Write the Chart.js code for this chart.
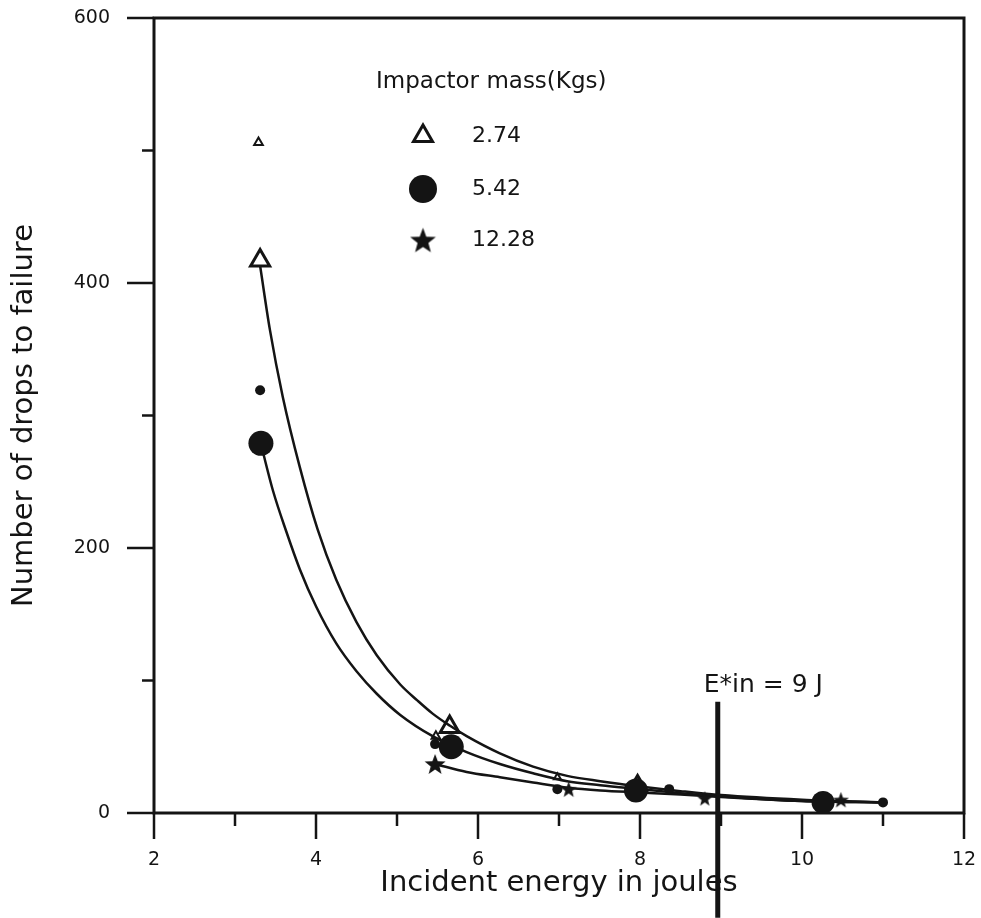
<!DOCTYPE html>
<html>
<head>
<meta charset="utf-8">
<title>Number of drops to failure vs incident energy</title>
<script src="https://cdn.jsdelivr.net/npm/chart.js"></script>
<style>
  html, body { margin: 0; padding: 0; background: #fff; }
  #chart { display: block; }
</style>
</head>
<body>
<canvas id="chart" width="981" height="918"></canvas>
<script>
// values

// axis ticks
const xMajorTicks = [2, 4, 6, 8, 10, 12];
const xMinorTicks = [3, 5, 7, 9, 11];
const yMajorTicks = [0, 200, 400, 600];
const yMinorTicks = [100, 300, 500];

// legend
const legendTitle = 'Impactor mass(Kgs)';
const massLabels = ['2.74', '5.42', '12.28'];

// measured points, one pair of arrays per impactor mass
const triangleX = [3.29, 3.31, 5.48, 5.65, 6.98, 7.97];
const triangleY = [506, 417, 58, 65, 27, 20];
const circleX = [3.31, 3.32, 5.47, 5.67, 6.98, 7.95, 8.36, 10.26, 11.0];
const circleY = [319, 279, 52, 50, 18, 17, 18, 8, 8];
const starX = [5.47, 7.12, 8.80, 10.48];
const starY = [37, 18, 11, 10];

// fitted curves
const upperCurveX = [3.31, 3.43, 3.59, 3.80, 4.02, 4.25, 4.5, 4.75, 5.04, 5.25, 5.44, 5.65, 5.86, 6.27, 6.68, 7.10, 7.51, 8.0, 8.5, 9.0, 10.0, 11.0];
const upperCurveY = [413, 365, 314, 261, 214, 176, 144, 119, 97, 85, 75, 66, 58, 45, 35, 28, 24, 20, 16.5, 13.5, 10, 8];
const middleCurveX = [3.33, 3.47, 3.63, 3.80, 4.0, 4.25, 4.5, 4.75, 5.04, 5.44, 5.86, 6.27, 6.68, 7.10, 7.51, 8.0, 8.5, 9.0, 10.0, 11.0];
const middleCurveY = [276, 243, 213, 184, 156, 128, 107, 90, 74, 58, 46, 37, 30, 24, 21, 18, 15, 12.5, 9, 8];
const lowerCurveX = [5.47, 5.86, 6.27, 6.68, 7.12, 7.51, 8.0, 8.5, 9.0, 10.0, 11.0];
const lowerCurveY = [37, 31, 27, 23, 19, 17, 15.5, 14, 12, 9, 8];

// threshold energy marker
const thresholdLabel = 'E*in = 9 J';
const thresholdX = [8.96, 8.96];
const thresholdY = [84, -79];

const ink = '#141414';
const FONT = '"DejaVu Sans", Verdana, sans-serif';

// wanted plot box inside the 981x918 canvas
const box = { left: 154, right: 964, top: 18, bottom: 813 };

const toPoints = (xs, ys) => xs.map((x, i) => ({ x: x, y: ys[i] }));

// filled five-pointed star as a point image
function makeStar(size) {
  const c = document.createElement('canvas');
  c.width = size;
  c.height = size;
  const g = c.getContext('2d');
  const R = size / 2, r = R * 0.42, cx = R, cy = R + R * 0.09;
  g.beginPath();
  for (let i = 0; i < 10; i++) {
    const ang = -Math.PI / 2 + i * Math.PI / 5;
    const rad = i % 2 ? r : R;
    g.lineTo(cx + rad * Math.cos(ang), cy + rad * Math.sin(ang));
  }
  g.closePath();
  g.fillStyle = ink;
  g.fill();
  return c;
}

// marker sizes (style, matched by index to the point arrays)
const triangleRadius = [5, 11, 5, 11, 4, 11];
const triangleBorder = [2, 3, 2, 3, 2, 3];
const circleRadius = [5, 12.5, 5, 12.5, 5, 12, 5, 11.5, 5];
const starImages = [22, 17, 16, 17].map(makeStar);
const legendStar = makeStar(27);

// box, tick marks
const framePlugin = {
  id: 'frame',
  beforeDatasetsDraw(chart) {
    const { ctx, chartArea: a, scales: { x, y } } = chart;
    ctx.save();
    ctx.strokeStyle = ink;
    ctx.lineWidth = 3;
    ctx.strokeRect(a.left, a.top, a.right - a.left, a.bottom - a.top);
    ctx.lineWidth = 2.5;
    ctx.beginPath();
    yMajorTicks.forEach(v => {
      const p = y.getPixelForValue(v);
      ctx.moveTo(a.left - 27, p); ctx.lineTo(a.left, p);
    });
    yMinorTicks.forEach(v => {
      const p = y.getPixelForValue(v);
      ctx.moveTo(a.left - 12, p); ctx.lineTo(a.left, p);
    });
    xMajorTicks.forEach(v => {
      const p = x.getPixelForValue(v);
      ctx.moveTo(p, a.bottom); ctx.lineTo(p, a.bottom + 26);
    });
    xMinorTicks.forEach(v => {
      const p = x.getPixelForValue(v);
      ctx.moveTo(p, a.bottom); ctx.lineTo(p, a.bottom + 13);
    });
    ctx.stroke();
    ctx.restore();
  }
};

// legend block and threshold label
const notesPlugin = {
  id: 'notes',
  afterDatasetsDraw(chart) {
    const { ctx, scales: { x, y } } = chart;
    ctx.save();
    ctx.fillStyle = ink;
    ctx.strokeStyle = ink;
    ctx.textBaseline = 'middle';
    ctx.textAlign = 'left';

    ctx.font = '23px ' + FONT;
    ctx.fillText(legendTitle, 376, 82);

    const rowY = [136, 189, 240];
    const mx = 423;
    // triangle
    ctx.lineWidth = 3;
    ctx.beginPath();
    const r = 11;
    ctx.moveTo(mx, rowY[0] - r);
    ctx.lineTo(mx + r * 0.866, rowY[0] + r / 2);
    ctx.lineTo(mx - r * 0.866, rowY[0] + r / 2);
    ctx.closePath();
    ctx.stroke();
    // circle
    ctx.beginPath();
    ctx.arc(mx, rowY[1], 14, 0, Math.PI * 2);
    ctx.fill();
    // star
    ctx.drawImage(legendStar, mx - legendStar.width / 2, rowY[2] - legendStar.height / 2);

    ctx.font = '22px ' + FONT;
    massLabels.forEach((t, i) => ctx.fillText(t, 472, rowY[i]));

    ctx.font = '25px ' + FONT;
    const lx = x.getPixelForValue(thresholdX[0]);
    const ly = y.getPixelForValue(thresholdY[0]);
    ctx.fillText(thresholdLabel, lx - 14, ly - 16);
    ctx.restore();
  }
};

const curveStyle = {
  showLine: true,
  pointRadius: 0,
  borderColor: ink,
  borderWidth: 2.5,
  cubicInterpolationMode: 'monotone',
  fill: false
};

const noPad = s => { s.paddingTop = 0; s.paddingBottom = 0; s.paddingLeft = 0; s.paddingRight = 0; };

const chart = new Chart(document.getElementById('chart'), {
  type: 'scatter',
  data: {
    datasets: [
      {
        label: massLabels[1],
        data: toPoints(circleX, circleY),
        pointStyle: 'circle',
        pointRadius: circleRadius,
        backgroundColor: ink,
        borderWidth: 0
      },
      {
        label: massLabels[2],
        data: toPoints(starX, starY),
        pointStyle: starImages
      },
      {
        label: massLabels[0],
        data: toPoints(triangleX, triangleY),
        pointStyle: 'triangle',
        pointRadius: triangleRadius,
        borderWidth: triangleBorder,
        borderColor: ink,
        backgroundColor: 'rgba(0,0,0,0)'
      },
      Object.assign({ data: toPoints(upperCurveX, upperCurveY) }, curveStyle),
      Object.assign({ data: toPoints(middleCurveX, middleCurveY) }, curveStyle),
      Object.assign({ data: toPoints(lowerCurveX, lowerCurveY) }, curveStyle),
      {
        data: toPoints(thresholdX, thresholdY),
        showLine: true,
        pointRadius: 0,
        borderColor: ink,
        borderWidth: 5,
        clip: false
      }
    ]
  },
  options: {
    responsive: false,
    animation: false,
    events: [],
    layout: { padding: { top: box.top, right: 981 - box.right, left: 0, bottom: 0 } },
    plugins: { legend: { display: false }, tooltip: { enabled: false } },
    scales: {
      x: {
        type: 'linear',
        min: 2,
        max: 12,
        afterFit: s => { s.height = 918 - box.bottom; noPad(s); },
        grid: { display: false, drawTicks: false },
        border: { display: false },
        ticks: { stepSize: 2, padding: 36, color: ink, font: { family: FONT, size: 19 } },
        title: {
          display: true,
          text: 'Incident energy in joules',
          color: ink,
          font: { family: FONT, size: 29 },
          padding: { top: 0, bottom: 17 }
        }
      },
      y: {
        type: 'linear',
        min: 0,
        max: 600,
        afterFit: s => { s.width = box.left; noPad(s); },
        grid: { display: false, drawTicks: false },
        border: { display: false },
        ticks: { stepSize: 200, padding: 44, color: ink, font: { family: FONT, size: 19 } },
        title: {
          display: true,
          text: 'Number of drops to failure',
          color: ink,
          font: { family: FONT, size: 29 },
          padding: { top: 7, bottom: 0 }
        }
      }
    }
  },
  plugins: [framePlugin, notesPlugin]
});

// nudge the layout padding so the plot box lands where the figure has it
const area = chart.chartArea;
const pad = chart.options.layout.padding;
pad.top += box.top - area.top;
pad.right += area.right - box.right;
pad.left += box.left - area.left;
pad.bottom += area.bottom - box.bottom;
chart.update();
</script>
</body>
</html>
